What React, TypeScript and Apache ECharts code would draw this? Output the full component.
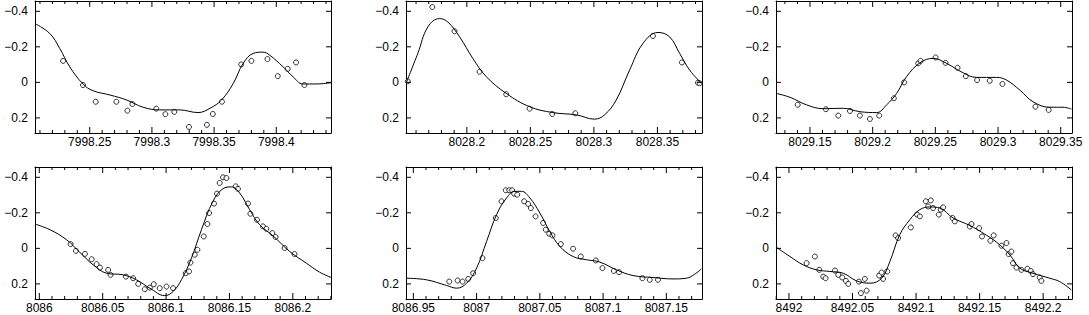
import React, { useEffect, useRef } from "react";
import * as echarts from "echarts";

// ---- Data: observed points (x = time, y = magnitude) and fitted curves ----
const p1Obs: number[][] = [
  [7998.2286, -0.121], [7998.2446, 0.015], [7998.2548, 0.109], [7998.2714, 0.109],
  [7998.2803, 0.159], [7998.2843, 0.122], [7998.3035, 0.148], [7998.3108, 0.179],
  [7998.318, 0.166], [7998.3298, 0.251], [7998.3442, 0.239], [7998.349, 0.178],
  [7998.3563, 0.109], [7998.3718, -0.101], [7998.38, -0.121], [7998.3929, -0.131],
  [7998.4012, -0.035], [7998.4092, -0.076], [7998.4159, -0.112], [7998.4226, 0.015],
];
const p1Fit: number[][] = [
  [7998.206, -0.331], [7998.2179, -0.275], [7998.2259, -0.191], [7998.2339, -0.088],
  [7998.2446, 0.009], [7998.2526, 0.047], [7998.2662, 0.071], [7998.2796, 0.099],
  [7998.2929, 0.14], [7998.3063, 0.155], [7998.3223, 0.155], [7998.3371, 0.17],
  [7998.3467, 0.146], [7998.356, 0.099], [7998.3654, 0.006], [7998.3734, -0.107],
  [7998.3814, -0.163], [7998.3894, -0.17], [7998.3947, -0.153], [7998.4054, -0.088],
  [7998.4134, -0.032], [7998.4214, 0.009], [7998.4321, 0.009], [7998.444, 0.002],
];
const p2Obs: number[][] = [
  [8028.1535, -0.006], [8028.1728, -0.424], [8028.1903, -0.288], [8028.21, -0.06],
  [8028.231, 0.067], [8028.2494, 0.148], [8028.2672, 0.178], [8028.2854, 0.174],
  [8028.3465, -0.261], [8028.3693, -0.112], [8028.3819, 0.002], [8028.3832, 0.005],
];
const p2Fit: number[][] = [
  [8028.1523, 0.002], [8028.1614, -0.163], [8028.1693, -0.312], [8028.1785, -0.359],
  [8028.185, -0.34], [8028.1943, -0.256], [8028.2047, -0.135], [8028.2153, -0.032],
  [8028.231, 0.062], [8028.2494, 0.137], [8028.2677, 0.17], [8028.2861, 0.183],
  [8028.3005, 0.207], [8028.3084, 0.183], [8028.3176, 0.099], [8028.3281, -0.069],
  [8028.3386, -0.219], [8028.3504, -0.281], [8028.3596, -0.256], [8028.3675, -0.163],
  [8028.3754, -0.069], [8028.3846, 0.005],
];
const p3Obs: number[][] = [
  [8029.1402, 0.126], [8029.1627, 0.151], [8029.1726, 0.187], [8029.1819, 0.161],
  [8029.1898, 0.187], [8029.1978, 0.206], [8029.2052, 0.187], [8029.2169, 0.09],
  [8029.2251, 0.0], [8029.2363, -0.107], [8029.2382, -0.121], [8029.2502, -0.14],
  [8029.2581, -0.11], [8029.2677, -0.082], [8029.2743, -0.035], [8029.2833, -0.013],
  [8029.2934, -0.009], [8029.3035, 0.009], [8029.3298, 0.137], [8029.3404, 0.155],
];
const p3Fit: number[][] = [
  [8029.1229, 0.062], [8029.1341, 0.084], [8029.1474, 0.127], [8029.1606, 0.148],
  [8029.1765, 0.146], [8029.1898, 0.165], [8029.2031, 0.17], [8029.2111, 0.127],
  [8029.2191, 0.062], [8029.227, -0.032], [8029.2377, -0.11], [8029.2483, -0.135],
  [8029.2589, -0.107], [8029.2722, -0.054], [8029.2828, -0.028], [8029.2988, -0.028],
  [8029.3067, -0.013], [8029.3173, 0.043], [8029.3279, 0.109], [8029.3412, 0.14],
  [8029.3518, 0.14], [8029.3585, 0.15],
];
const p4Obs: number[][] = [
  [8086.0247, -0.024], [8086.0289, 0.014], [8086.036, 0.031], [8086.0413, 0.061],
  [8086.0452, 0.089], [8086.0478, 0.108], [8086.0543, 0.121], [8086.0562, 0.149],
  [8086.0683, 0.159], [8086.074, 0.168], [8086.078, 0.2], [8086.0832, 0.23],
  [8086.0872, 0.221], [8086.0903, 0.202], [8086.095, 0.224], [8086.1003, 0.215],
  [8086.1055, 0.224], [8086.1155, 0.14], [8086.1181, 0.13], [8086.1192, 0.08],
  [8086.1226, 0.036], [8086.1247, 0.008], [8086.1297, -0.067], [8086.1326, -0.137],
  [8086.1339, -0.199], [8086.1378, -0.252], [8086.1402, -0.308], [8086.1423, -0.368],
  [8086.1449, -0.4], [8086.1476, -0.396], [8086.1549, -0.349], [8086.1567, -0.335],
  [8086.1646, -0.252], [8086.1665, -0.195], [8086.1717, -0.161], [8086.1764, -0.124],
  [8086.1791, -0.11], [8086.1838, -0.086], [8086.1864, -0.064], [8086.1935, -0.002],
  [8086.2013, 0.032],
];
const p4Fit: number[][] = [
  [8085.9966, -0.137], [8086.0084, -0.105], [8086.0216, -0.048], [8086.032, 0.023],
  [8086.0425, 0.093], [8086.0531, 0.14], [8086.0661, 0.149], [8086.0766, 0.177],
  [8086.0872, 0.224], [8086.099, 0.266], [8086.1055, 0.243], [8086.1121, 0.177],
  [8086.12, 0.055], [8086.1279, -0.105], [8086.137, -0.265], [8086.1449, -0.336],
  [8086.1515, -0.346], [8086.158, -0.312], [8086.1659, -0.218], [8086.1738, -0.133],
  [8086.1843, -0.071], [8086.1976, 0.018], [8086.2106, 0.083], [8086.2211, 0.134],
  [8086.2303, 0.164],
];
const p5Obs: number[][] = [
  [8086.9784, 0.187], [8086.985, 0.181], [8086.9889, 0.187], [8086.9934, 0.172],
  [8086.9973, 0.14], [8087.0047, 0.055], [8087.0152, -0.171], [8087.0197, -0.265],
  [8087.0231, -0.327], [8087.0258, -0.327], [8087.0281, -0.327], [8087.0297, -0.308],
  [8087.0321, -0.302], [8087.0376, -0.265], [8087.0408, -0.25], [8087.0429, -0.227],
  [8087.0466, -0.18], [8087.0526, -0.143], [8087.0547, -0.105], [8087.0574, -0.082],
  [8087.06, -0.073], [8087.0666, -0.024], [8087.0763, 0.002], [8087.0824, 0.046],
  [8087.0942, 0.068], [8087.0995, 0.111], [8087.1085, 0.127], [8087.1126, 0.134],
  [8087.1311, 0.168], [8087.1369, 0.177], [8087.1434, 0.177],
];
const p5Fit: number[][] = [
  [8086.9442, 0.168], [8086.9605, 0.177], [8086.9763, 0.209], [8086.9842, 0.224],
  [8086.9921, 0.196], [8087.0, 0.111], [8087.0079, -0.039], [8087.0158, -0.19],
  [8087.0237, -0.284], [8087.0303, -0.321], [8087.0355, -0.321], [8087.0421, -0.284],
  [8087.05, -0.199], [8087.0579, -0.095], [8087.0658, -0.011], [8087.0763, 0.046],
  [8087.0869, 0.064], [8087.0974, 0.077], [8087.1106, 0.121], [8087.1237, 0.153],
  [8087.1395, 0.164], [8087.1553, 0.172], [8087.1659, 0.168], [8087.1725, 0.145],
  [8087.1777, 0.115],
];
const p6Obs: number[][] = [
  [8492.0139, 0.083], [8492.0204, 0.046], [8492.0238, 0.121], [8492.027, 0.159],
  [8492.0288, 0.168], [8492.0362, 0.125], [8492.0388, 0.149], [8492.0419, 0.164],
  [8492.0448, 0.183], [8492.0466, 0.2], [8492.055, 0.187], [8492.0566, 0.252],
  [8492.0597, 0.172], [8492.0611, 0.238], [8492.071, 0.153], [8492.0729, 0.136],
  [8492.0741, 0.172], [8492.0773, 0.13], [8492.0839, -0.073], [8492.0859, -0.058],
  [8492.0959, -0.118], [8492.1008, -0.19], [8492.103, -0.18], [8492.1077, -0.265],
  [8492.1095, -0.236], [8492.1116, -0.27], [8492.1134, -0.227], [8492.1179, -0.19],
  [8492.1195, -0.218], [8492.1213, -0.231], [8492.1287, -0.171], [8492.1305, -0.152],
  [8492.1423, -0.123], [8492.1436, -0.137], [8492.1496, -0.114], [8492.1519, -0.067],
  [8492.1585, -0.043], [8492.1611, -0.073], [8492.1672, -0.015], [8492.1711, -0.03],
  [8492.1729, 0.032], [8492.175, 0.018], [8492.1763, 0.083], [8492.179, 0.108],
  [8492.1829, 0.121], [8492.1876, 0.115], [8492.1902, 0.127], [8492.192, 0.145],
  [8492.1973, 0.164], [8492.1986, 0.183],
];
const p6Fit: number[][] = [
  [8491.9903, -0.005], [8492.0008, 0.046], [8492.0112, 0.093], [8492.0218, 0.121],
  [8492.0322, 0.13], [8492.0427, 0.14], [8492.0532, 0.183], [8492.0637, 0.196],
  [8492.0729, 0.168], [8492.0794, 0.074], [8492.0872, -0.077], [8492.0951, -0.161],
  [8492.103, -0.218], [8492.1108, -0.233], [8492.1187, -0.227], [8492.1291, -0.171],
  [8492.1423, -0.129], [8492.1527, -0.086], [8492.1633, -0.035], [8492.1737, 0.036],
  [8492.1816, 0.111], [8492.192, 0.14], [8492.2051, 0.168], [8492.213, 0.187],
  [8492.2222, 0.234],
];

const xRanges: number[][] = [
  [7998.206, 7998.444],
  [8028.1521, 8028.3851],
  [8029.1229, 8029.359],
  [8085.9966, 8086.2301],
  [8086.9442, 8087.1782],
  [8491.9898, 8492.2227],
];
const yRange = [-0.458, 0.285];
const yTickValues = [-0.4, -0.2, 0, 0.2];
const panels = [
  { obs: p1Obs, fit: p1Fit },
  { obs: p2Obs, fit: p2Fit },
  { obs: p3Obs, fit: p3Fit },
  { obs: p4Obs, fit: p4Fit },
  { obs: p5Obs, fit: p5Fit },
  { obs: p6Obs, fit: p6Fit },
];

const colLefts = [35, 406, 776];
const rowTops = [1, 167];
const W = 296;
const H = 132;
const FONT = "'Liberation Sans', Arial, sans-serif";

const fmtX = (v: number) => String(Number(v.toFixed(2)));
const fmtY = (v: number) => {
  const r = Math.round(v * 10) / 10;
  if (r === 0) return "0";
  return r < 0 ? "\u2212" + String(Math.abs(r)) : String(r);
};

// Frame tick marks as short broken line segments (x every 0.01, longer every 0.05; y at labels).
function tickSegments(xr: number[]): any[] {
  const yPerPx = (yRange[1] - yRange[0]) / H;
  const xPerPx = (xr[1] - xr[0]) / W;
  const out: any[] = [];
  const gap = ["-", "-"];
  const k0 = Math.ceil(xr[0] * 100 - 1e-6);
  const k1 = Math.floor(xr[1] * 100 + 1e-6);
  for (let k = k0; k <= k1; k++) {
    const v = k / 100;
    const len = (k % 5 === 0 ? 6 : 3) * yPerPx;
    out.push([v, yRange[0]], [v, yRange[0] + len], gap);
    out.push([v, yRange[1]], [v, yRange[1] - len], gap);
  }
  const ylen = 5 * xPerPx;
  yTickValues.forEach((v) => {
    out.push([xr[0], v], [xr[0] + ylen, v], gap);
    out.push([xr[1], v], [xr[1] - ylen, v], gap);
  });
  return out;
}

export default function App() {
  const ref = useRef<HTMLDivElement>(null);
  useEffect(() => {
    if (!ref.current) return;
    const chart = echarts.init(ref.current, undefined, { renderer: "svg" });
    const grid: any[] = [];
    const xAxis: any[] = [];
    const yAxis: any[] = [];
    const series: any[] = [];
    panels.forEach((p, i) => {
      const col = i % 3;
      const row = Math.floor(i / 3);
      grid.push({ left: colLefts[col], top: rowTops[row], width: W, height: H, containLabel: false });
      const [xmin, xmax] = xRanges[i];
      const baseX = {
        type: "value",
        gridIndex: i,
        min: xmin,
        max: xmax,
        minInterval: 0.05,
        maxInterval: 0.05,
        splitLine: { show: false },
        axisLine: { show: true, onZero: false, lineStyle: { color: "#000", width: 1 } },
        axisTick: { show: false },
        minorTick: { show: false },
      };
      xAxis.push({
        ...baseX,
        position: "bottom",
        axisLabel: {
          show: true,
          margin: 3,
          color: "#000",
          fontSize: 12,
          fontFamily: FONT,
          showMinLabel: false,
          showMaxLabel: false,
          formatter: fmtX,
        },
      });
      xAxis.push({ ...baseX, position: "top", axisLabel: { show: false } });
      const baseY = {
        type: "value",
        gridIndex: i,
        inverse: true,
        min: yRange[0],
        max: yRange[1],
        minInterval: 0.2,
        maxInterval: 0.2,
        splitLine: { show: false },
        axisLine: { show: true, onZero: false, lineStyle: { color: "#000", width: 1 } },
        axisTick: { show: false },
      };
      yAxis.push({
        ...baseY,
        position: "left",
        axisLabel: {
          show: true,
          margin: 7,
          color: "#000",
          fontSize: 12,
          fontFamily: FONT,
          showMinLabel: false,
          showMaxLabel: false,
          formatter: fmtY,
        },
      });
      yAxis.push({ ...baseY, position: "right", axisLabel: { show: false } });
      series.push({
        type: "line",
        xAxisIndex: i * 2,
        yAxisIndex: i * 2,
        data: tickSegments(xRanges[i]),
        showSymbol: false,
        symbol: "none",
        connectNulls: false,
        clip: false,
        silent: true,
        z: 5,
        lineStyle: { color: "#000", width: 1 },
      });
      series.push({
        type: "line",
        xAxisIndex: i * 2,
        yAxisIndex: i * 2,
        data: p.fit,
        smooth: 0.4,
        showSymbol: false,
        symbol: "none",
        lineStyle: { color: "#000", width: 1 },
        silent: true,
      });
      series.push({
        type: "scatter",
        xAxisIndex: i * 2,
        yAxisIndex: i * 2,
        data: p.obs,
        symbol: "circle",
        symbolSize: 5,
        itemStyle: { color: "#fff", borderColor: "#000", borderWidth: 1 },
        silent: true,
      });
    });
    chart.setOption({
      animation: false,
      grid,
      xAxis,
      yAxis,
      series,
    });
    return () => chart.dispose();
  }, []);
  return (
    <div
      ref={ref}
      style={{ position: "absolute", left: 0, top: 0, width: 1089, height: 315, background: "#fff" }}
    />
  );
}
